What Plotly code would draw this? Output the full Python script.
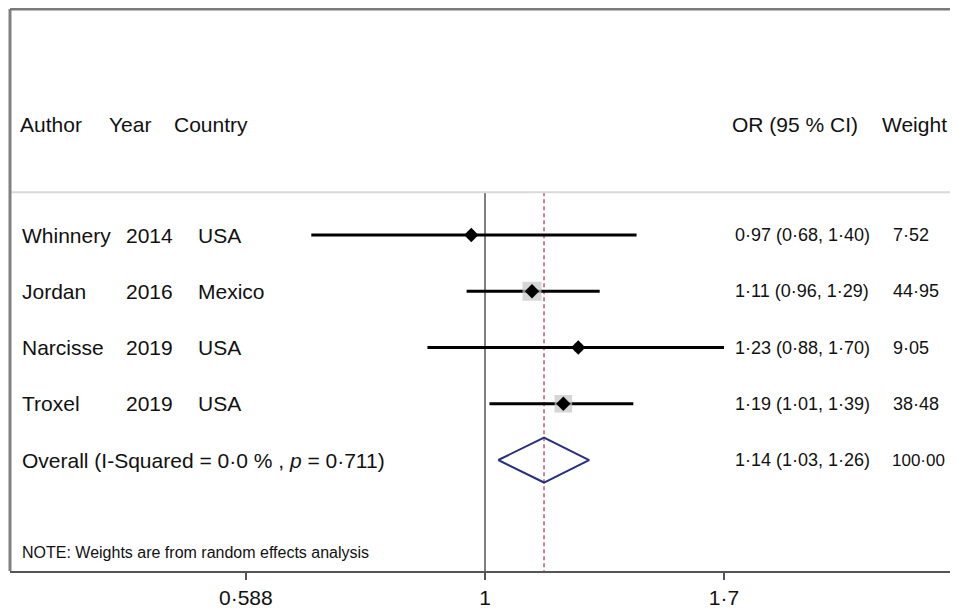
import plotly.graph_objects as go
import numpy as np

# ---- data ----
authors = ["Whinnery", "Jordan", "Narcisse", "Troxel"]
years = ["2014", "2016", "2019", "2019"]
countries = ["USA", "Mexico", "USA", "USA"]
or_est = [0.97, 1.11, 1.23, 1.19]
ci_low = [0.68, 0.96, 0.88, 1.01]
ci_high = [1.40, 1.29, 1.70, 1.39]
weights = [7.52, 44.95, 9.05, 38.48]
overall_est = 1.14
overall_low = 1.03
overall_high = 1.26
overall_weight = 100.00
i_squared = 0.0
p_value = 0.711
tick_vals = [0.588, 1, 1.7]
tick_text = ["0·588", "1", "1·7"]

def dot(s):
    return s.replace(".", "·")

FONT = "Liberation Sans, Arial, sans-serif"
BODY = 8  # default page body margin
W, H = 950, 601
ML, MR, MT, MB = 2, 0, 1, 38

def px(page_x):
    return (page_x - BODY - ML) / (W - ML - MR)

rows = list(range(len(authors)))
overall_row = len(authors)
header_row = -1.96
sep_row = -0.76
note_row = 5.64
y_top, y_bot = -4.018, 5.973

fig = go.Figure()

# reference lines
fig.add_trace(go.Scatter(x=[1, 1], y=[sep_row, y_bot], mode="lines",
                         line=dict(color="#555555", width=1.5), hoverinfo="skip", showlegend=False))
fig.add_trace(go.Scatter(x=[overall_est, overall_est], y=[sep_row, y_bot], mode="lines",
                         line=dict(color="#c8586e", width=1.5, dash="4px,3px"),
                         hoverinfo="skip", showlegend=False))

# CI lines
for i in rows:
    fig.add_trace(go.Scatter(x=[ci_low[i], ci_high[i]], y=[i, i], mode="lines",
                             line=dict(color="black", width=3), hoverinfo="skip", showlegend=False))

# weight squares
k = 19 / np.sqrt(max(weights))
fig.add_trace(go.Scatter(x=or_est, y=rows, mode="markers",
                         marker=dict(symbol="square", size=[k * np.sqrt(w) for w in weights],
                                     color="#c4c4c4", line=dict(width=0)),
                         hoverinfo="skip", showlegend=False))
# point estimates
fig.add_trace(go.Scatter(x=or_est, y=rows, mode="markers",
                         marker=dict(symbol="diamond", size=11, color="black"),
                         hoverinfo="skip", showlegend=False))

# overall diamond
h = 0.4
fig.add_trace(go.Scatter(
    x=[overall_low, overall_est, overall_high, overall_est, overall_low],
    y=[overall_row, overall_row - h, overall_row, overall_row + h, overall_row],
    mode="lines", line=dict(color="#27307f", width=2), hoverinfo="skip", showlegend=False))

ann = []
def txt(page_x, y, text, size, anchor="left"):
    ann.append(dict(x=px(page_x), xref="paper", y=y, yref="y", text=text, showarrow=False,
                    xanchor=anchor, yanchor="middle", font=dict(family=FONT, size=size, color="#111111")))

LBL, NUM = 21, 18
# header
txt(18, header_row, "Author", LBL)
txt(107, header_row, "Year", LBL)
txt(172, header_row, "Country", LBL)
txt(730, header_row, "OR (95 % CI)", LBL)
txt(880, header_row, "Weight", LBL)

for i in rows:
    txt(20, i, authors[i], LBL)
    txt(124, i, years[i], LBL)
    txt(196, i, countries[i], LBL)
    txt(733, i, dot(f"{or_est[i]:.2f} ({ci_low[i]:.2f}, {ci_high[i]:.2f})"), NUM)
    txt(891, i, dot(f"{weights[i]:.2f}"), NUM)

txt(20, overall_row, dot(f"Overall (I-Squared = {i_squared:.1f} % , <i>p</i> = {p_value:.3f})"), LBL)
txt(733, overall_row, dot(f"{overall_est:.2f} ({overall_low:.2f}, {overall_high:.2f})"), NUM)
txt(890, overall_row, dot(f"{overall_weight:.2f}"), 17)
txt(20, note_row, "NOTE: Weights are from random effects analysis", 16)

shapes = [
    dict(type="line", xref="paper", yref="y", x0=0, x1=1, y0=sep_row, y1=sep_row,
         line=dict(color="#d9d9d9", width=2)),
    dict(type="line", xref="paper", yref="paper", x0=0, x1=0, y0=0, y1=1,
         line=dict(color="#808080", width=3)),
    dict(type="line", xref="paper", yref="paper", x0=0, x1=1, y0=1, y1=1,
         line=dict(color="#7a7a7a", width=3)),
]

# log10 range from pixel calibration: 1 -> page x=485, 450.4 px per ln unit
lo = (BODY + ML - 485) / 450.4 / np.log(10)
hi = (BODY + W - MR - 485) / 450.4 / np.log(10)

fig.update_layout(
    width=W, height=H,
    margin=dict(l=ML, r=MR, t=MT, b=MB),
    paper_bgcolor="white", plot_bgcolor="white",
    annotations=ann, shapes=shapes,
    xaxis=dict(type="log", range=[lo, hi], tickvals=tick_vals, ticktext=tick_text,
               ticks="outside", ticklen=7, tickwidth=2, tickcolor="#555555",
               showline=True, linecolor="#555555", linewidth=2, showgrid=False, zeroline=False,
               tickfont=dict(family=FONT, size=21, color="#111111")),
    yaxis=dict(range=[y_bot, y_top], showgrid=False, zeroline=False, showticklabels=False,
               ticks="", showline=False),
)

fig.write_html("out.html")
